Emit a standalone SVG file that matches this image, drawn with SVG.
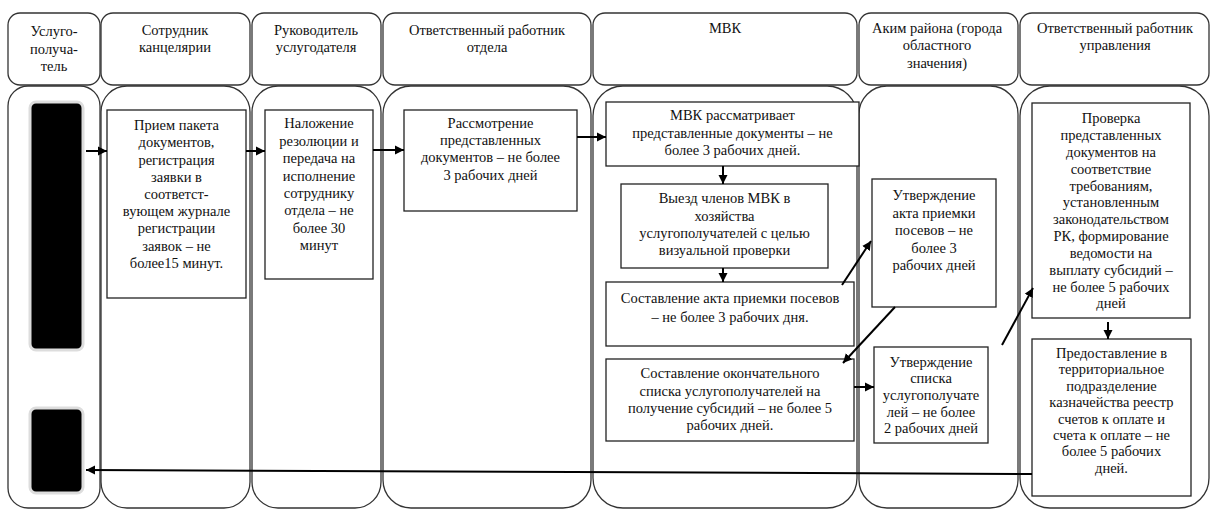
<svg xmlns="http://www.w3.org/2000/svg" width="1211" height="510" viewBox="0 0 1211 510" font-family="'Liberation Serif', 'DejaVu Serif', 'Times New Roman', serif">
<style>
.lane{fill:#fff;stroke:#333;stroke-width:1.3}
.box{fill:#fff;stroke:#222;stroke-width:1.3}
.blk{fill:#000;stroke:#ddd;stroke-width:3}
text{font-family:'Liberation Serif', 'DejaVu Serif', 'Times New Roman', serif;font-size:14.5px;fill:#111;text-anchor:middle}
.c line{stroke:#000;stroke-width:2;fill:none;marker-end:url(#ah)}
</style>
<defs>
<marker id="ah" markerUnits="userSpaceOnUse" markerWidth="10" markerHeight="10" refX="9" refY="5" orient="auto">
<path d="M0,0.5 L9,5 L0,9.5 Z" fill="#000"/>
</marker>
</defs>
<rect width="1211" height="510" fill="#fff"/>
<g id="lanes">
<rect class="lane" x="8" y="13" width="92" height="72" rx="12"/>
<rect class="lane" x="101" y="13" width="149" height="72" rx="12"/>
<rect class="lane" x="252" y="13" width="129" height="72" rx="12"/>
<rect class="lane" x="383" y="13" width="208" height="72" rx="12"/>
<rect class="lane" x="593" y="13" width="264" height="72" rx="12"/>
<rect class="lane" x="859" y="13" width="159" height="72" rx="12"/>
<rect class="lane" x="1020" y="13" width="189" height="72" rx="12"/>
<rect class="lane" x="8" y="86" width="92" height="422" rx="20"/>
<rect class="lane" x="101" y="86" width="149" height="422" rx="26"/>
<rect class="lane" x="252" y="86" width="129" height="422" rx="26"/>
<rect class="lane" x="383" y="86" width="208" height="422" rx="28"/>
<rect class="lane" x="593" y="86" width="264" height="422" rx="30"/>
<rect class="lane" x="859" y="86" width="159" height="422" rx="28"/>
<rect class="lane" x="1020" y="86" width="189" height="422" rx="30"/>
<text x="54" y="36">Услуго-</text>
<text x="54" y="54">получа-</text>
<text x="54" y="71">тель</text>
<text x="175" y="35">Сотрудник</text>
<text x="175" y="52">канцелярии</text>
<text x="316" y="35">Руководитель</text>
<text x="316" y="52">услугодателя</text>
<text x="487" y="35">Ответственный работник</text>
<text x="487" y="52">отдела</text>
<text x="725" y="33">МВК</text>
<text x="937" y="33">Аким района (города</text>
<text x="937" y="50">областного</text>
<text x="937" y="68">значения)</text>
<text x="1115" y="33">Ответственный работник</text>
<text x="1115" y="50">управления</text>
</g>
<g id="n-start">
<rect class="blk" x="30" y="102" width="53" height="248" rx="6"/>
</g>
<g id="n-end">
<rect class="blk" x="30" y="408" width="53" height="85" rx="6"/>
</g>
<g id="n-priem">
<rect class="box" x="107" y="110" width="139" height="188"/>
<text x="176.5" y="130">Прием пакета</text>
<text x="176.5" y="147">документов,</text>
<text x="176.5" y="165">регистрация</text>
<text x="176.5" y="182">заявки  в</text>
<text x="176.5" y="199">соответст-</text>
<text x="176.5" y="216">вующем журнале</text>
<text x="176.5" y="233">регистрации</text>
<text x="176.5" y="251">заявок –  не</text>
<text x="176.5" y="268">более15 минут.</text>
</g>
<g id="n-nalozh">
<rect class="box" x="265" y="110" width="108" height="169"/>
<text x="319" y="128">Наложение</text>
<text x="319" y="146">резолюции и</text>
<text x="319" y="163">передача на</text>
<text x="319" y="181">исполнение</text>
<text x="319" y="198">сотруднику</text>
<text x="319" y="215">отдела – не</text>
<text x="319" y="233">более 30</text>
<text x="319" y="250">минут</text>
</g>
<g id="n-rassm">
<rect class="box" x="404" y="110" width="173" height="101"/>
<text x="490.5" y="128">Рассмотрение</text>
<text x="490.5" y="145">представленных</text>
<text x="490.5" y="162">документов – не более</text>
<text x="490.5" y="180">3 рабочих дней</text>
</g>
<g id="n-mvk1">
<rect class="box" x="606" y="102" width="253" height="64"/>
<text x="732.5" y="120">МВК рассматривает</text>
<text x="732.5" y="138">представленные документы –  не</text>
<text x="732.5" y="155">более 3 рабочих дней.</text>
</g>
<g id="n-mvk2">
<rect class="box" x="621" y="184" width="207" height="84"/>
<text x="724.5" y="203">Выезд членов МВК в</text>
<text x="724.5" y="221">хозяйства</text>
<text x="724.5" y="238">услугополучателей с целью</text>
<text x="724.5" y="255">визуальной проверки</text>
</g>
<g id="n-mvk3">
<rect class="box" x="606" y="282" width="248" height="64"/>
<text x="730" y="303">Составление акта приемки посевов</text>
<text x="730" y="322"> –  не более 3 рабочих дня.</text>
</g>
<g id="n-mvk4">
<rect class="box" x="606" y="359" width="248" height="82"/>
<text x="730" y="378">Составление окончательного</text>
<text x="730" y="396">списка услугополучателей на</text>
<text x="730" y="413">получение субсидий – не более 5</text>
<text x="730" y="430">рабочих дней.</text>
</g>
<g id="n-akim1">
<rect class="box" x="872" y="179" width="124" height="128"/>
<text x="934" y="200">Утверждение</text>
<text x="934" y="218">акта приемки</text>
<text x="934" y="235">посевов – не</text>
<text x="934" y="253">более 3</text>
<text x="934" y="270">рабочих дней</text>
</g>
<g id="n-akim2">
<rect class="box" x="874" y="347" width="114" height="96"/>
<text x="931" y="367">Утверждение</text>
<text x="931" y="383">списка</text>
<text x="931" y="400">услугополучате</text>
<text x="931" y="417">лей – не более</text>
<text x="931" y="433">2 рабочих дней</text>
</g>
<g id="n-upr1">
<rect class="box" x="1032" y="103" width="158" height="215"/>
<text x="1111" y="123">Проверка</text>
<text x="1111" y="140">представленных</text>
<text x="1111" y="157">документов на</text>
<text x="1111" y="174">соответствие</text>
<text x="1111" y="191">требованиям,</text>
<text x="1111" y="207">установленным</text>
<text x="1111" y="224">законодательством</text>
<text x="1111" y="241">РК, формирование</text>
<text x="1111" y="258">ведомости на</text>
<text x="1111" y="275">выплату субсидий –</text>
<text x="1111" y="292">не более  5 рабочих</text>
<text x="1111" y="308">дней</text>
</g>
<g id="n-upr2">
<rect class="box" x="1032" y="339" width="159" height="157"/>
<text x="1111.5" y="358">Предоставление в</text>
<text x="1111.5" y="374">территориальное</text>
<text x="1111.5" y="391">подразделение</text>
<text x="1111.5" y="407">казначейства реестр</text>
<text x="1111.5" y="424">счетов к оплате и</text>
<text x="1111.5" y="440">счета к оплате – не</text>
<text x="1111.5" y="456">более 5 рабочих</text>
<text x="1111.5" y="473">дней.</text>
</g>
<g id="connectors" class="c">
<line x1="86" y1="151" x2="107" y2="151"/>
<line x1="246" y1="151" x2="265" y2="151"/>
<line x1="373" y1="150" x2="404" y2="150"/>
<line x1="577" y1="137" x2="606" y2="137"/>
<line x1="723" y1="166" x2="723" y2="184"/>
<line x1="723" y1="268" x2="723" y2="282"/>
<line x1="842" y1="285" x2="871" y2="241"/>
<line x1="895" y1="307" x2="843" y2="363"/>
<line x1="854" y1="387" x2="874" y2="387"/>
<line x1="1002" y1="345" x2="1033" y2="288"/>
<line x1="1108" y1="322" x2="1108" y2="339"/>
<line x1="1032" y1="474" x2="86" y2="470"/>
</g>
</svg>
